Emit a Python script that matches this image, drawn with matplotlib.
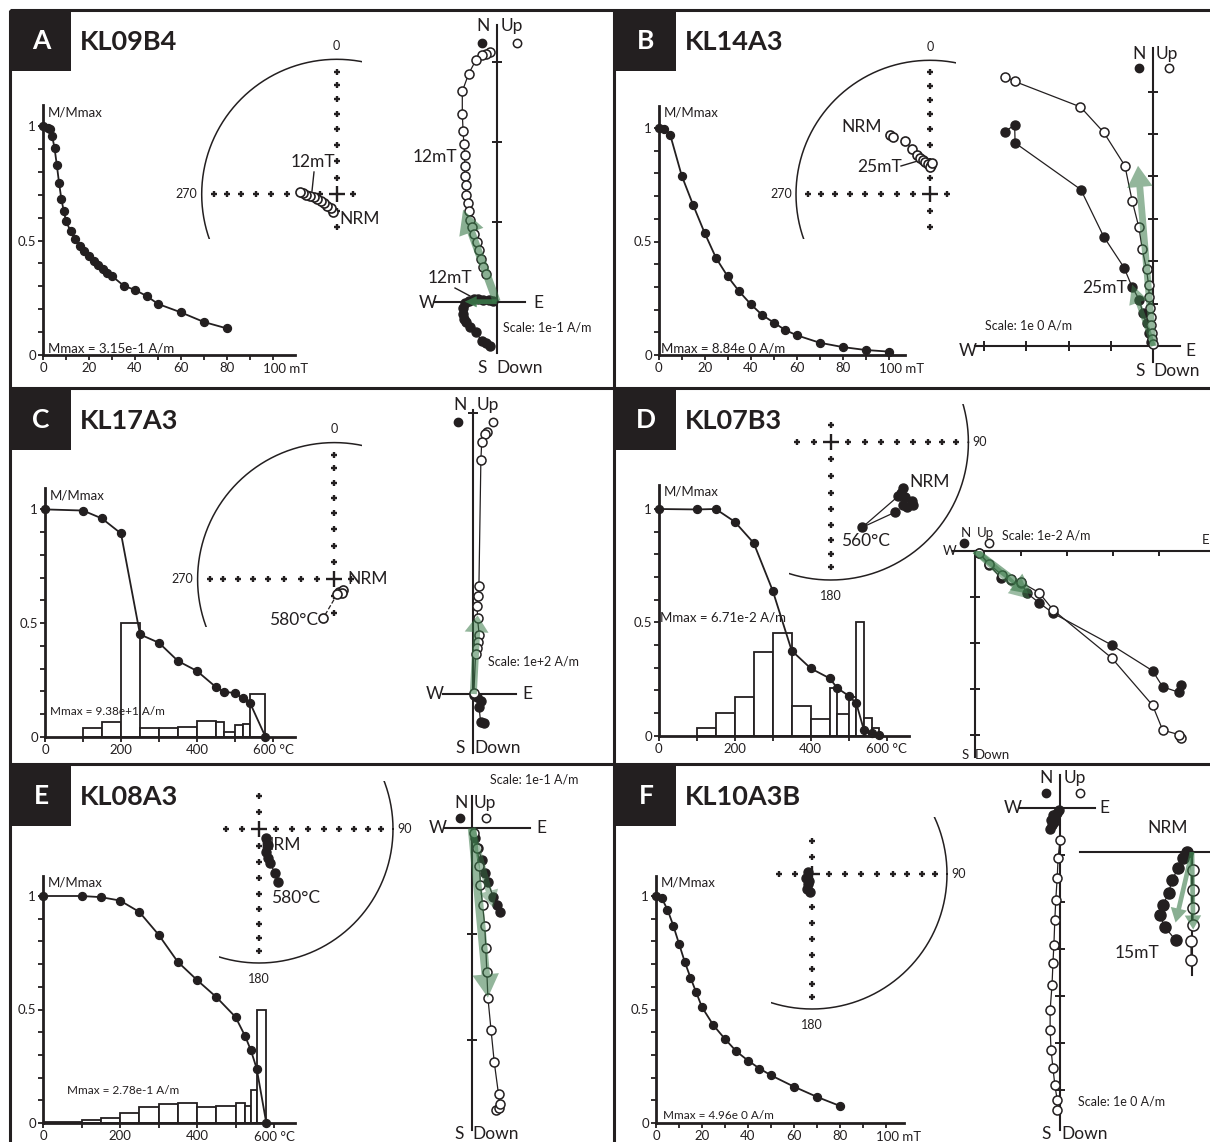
import numpy as np
import matplotlib.pyplot as plt
from matplotlib.patches import Rectangle

plt.rcParams['font.family'] = ['Lato', 'DejaVu Sans']

W, H = 1210, 1142
INK = '#231f20'
GREEN = '#3b7a4a'

# ---------------- demagnetisation curves ----------------
A_step = [0, 2, 3, 4, 5, 6, 7, 8, 9, 10, 12, 14, 16, 18, 20, 22, 24, 26, 28, 30, 35, 40, 45, 50, 60, 70, 80]
A_mag = [1.0, 0.99, 0.985, 0.955, 0.905, 0.83, 0.75, 0.68, 0.63, 0.585, 0.54, 0.505, 0.476, 0.454, 0.432,
         0.41, 0.393, 0.376, 0.36, 0.345, 0.303, 0.284, 0.258, 0.223, 0.186, 0.144, 0.116]

B_step = [0, 2.5, 5, 10, 15, 20, 25, 30, 35, 40, 45, 50, 55, 60, 70, 80, 90, 100]
B_mag = [1.0, 0.995, 0.97, 0.79, 0.66, 0.537, 0.426, 0.346, 0.28, 0.224, 0.176, 0.143, 0.11, 0.087,
         0.054, 0.035, 0.022, 0.015]

C_step = [0, 100, 150, 200, 250, 300, 350, 400, 450, 470, 500, 520, 540, 580]
C_mag = [1.0, 0.995, 0.96, 0.894, 0.45, 0.413, 0.333, 0.289, 0.218, 0.198, 0.192, 0.169, 0.147, 0.0]
C_bin_lo = [100, 150, 200, 250, 300, 350, 400, 450, 470, 500, 520, 540]
C_bin_hi = [150, 200, 250, 300, 350, 400, 450, 470, 500, 520, 540, 580]
C_bin_h = [0.037, 0.063, 0.5, 0.037, 0.037, 0.044, 0.069, 0.063, 0.02, 0.051, 0.054, 0.19]

D_step = [0, 100, 150, 200, 250, 300, 350, 400, 450, 470, 500, 520, 540, 560, 580]
D_mag = [1.0, 0.998, 1.0, 0.944, 0.85, 0.64, 0.375, 0.297, 0.253, 0.21, 0.176, 0.143, 0.025, 0.01, 0.003]
D_bin_lo = [100, 150, 200, 250, 300, 350, 400, 450, 470, 500, 520, 540, 560]
D_bin_hi = [150, 200, 250, 300, 350, 400, 450, 470, 500, 520, 540, 560, 580]
D_bin_h = [0.035, 0.098, 0.172, 0.37, 0.451, 0.132, 0.072, 0.212, 0.094, 0.17, 0.5, 0.076, 0.032]

E_step = [0, 100, 150, 200, 250, 300, 350, 400, 450, 500, 525, 540, 555, 580]
E_mag = [1.0, 1.0, 0.995, 0.98, 0.93, 0.83, 0.71, 0.63, 0.555, 0.467, 0.383, 0.32, 0.24, 0.0]
E_bin_lo = [0, 100, 150, 200, 250, 300, 350, 400, 450, 500, 525, 540, 555]
E_bin_hi = [100, 150, 200, 250, 300, 350, 400, 450, 500, 525, 540, 555, 580]
E_bin_h = [0.005, 0.012, 0.02, 0.045, 0.07, 0.085, 0.09, 0.07, 0.075, 0.09, 0.075, 0.145, 0.5]

F_step = [0, 2.5, 5, 7.5, 10, 12.5, 15, 17.5, 20, 25, 30, 35, 40, 45, 50, 60, 70, 80]
F_mag = [1.0, 0.99, 0.94, 0.87, 0.79, 0.71, 0.64, 0.575, 0.51, 0.43, 0.37, 0.315, 0.275, 0.24, 0.21,
         0.16, 0.115, 0.075]

# ---------------- stereonet directions ----------------
A_dec = [191, 203, 219, 234, 248, 256, 262, 266, 269, 272, 274]
A_inc = [-79.4, -80.8, -81.2, -80.7, -79.5, -78.1, -76.2, -73.9, -71.5, -69.5, -67.7]
B_dec = [326, 327, 335, 338, 341, 345, 348, 352, 356, 1, 359, 3]
B_inc = [-46, -47.8, -53.5, -59.9, -64.9, -67, -68.8, -70.2, -71.3, -72.3, -73.7, -70.9]
C_dec = [158, 140, 151, 168, 196]
C_inc = [-82, -81.7, -80.9, -81.2, -65.8]
D_dec = [122.6, 125.8, 126.5, 125.8, 127.2, 130.5, 130.8, 128.4, 159.6, 137.4]
D_inc = [37.9, 37.4, 33.3, 28.3, 25.6, 28.2, 30.9, 37.3, 34.5, 31.6]
E_dec = [142, 150.6, 163.2, 162.8, 162.1, 160, 160.3]
E_inc = [83.1, 78.9, 75.4, 71.6, 68.2, 61.4, 55.3]
F_dec = [296.6, 235.7, 202, 198.4, 186.4, 201.8]
F_inc = [87.3, 85.7, 83.5, 80.5, 79.1, 85.6]

# ---------------- orthogonal (Zijderveld) projections ----------------
A_hor_e = [-0.08, -0.13, -0.19, -0.26, -0.33, -0.38, -0.41, -0.42, -0.42, -0.40, -0.35, -0.29, -0.23, -0.17, -0.10, -0.05]
A_hor_n = [-0.55, -0.52, -0.49, -0.38, -0.31, -0.25, -0.21, -0.15, -0.08, -0.02, 0.01, 0.03, 0.03, 0.02, 0.02, 0.01]
A_ver_e = [-0.08, -0.13, -0.18, -0.26, -0.35, -0.43, -0.43, -0.42, -0.41, -0.40, -0.40, -0.40, -0.39, -0.38,
           -0.36, -0.35, -0.33, -0.31, -0.28, -0.25, -0.22, -0.20, -0.17, -0.13]
A_ver_up = [3.12, 3.10, 3.09, 3.02, 2.85, 2.63, 2.35, 2.13, 1.97, 1.83, 1.70, 1.57, 1.46, 1.33, 1.23, 1.13,
            1.02, 0.94, 0.85, 0.75, 0.65, 0.54, 0.44, 0.35]

B_hor_e = [-3.5, -3.27, -3.26, -1.71, -1.17, -0.69, -0.5, -0.33, -0.25, -0.16, -0.094, -0.047]
B_hor_n = [5.05, 5.22, 4.79, 3.69, 2.58, 1.85, 1.39, 1.09, 0.79, 0.54, 0.3, 0.1]
B_ver_e = [-3.49, -3.27, -1.72, -1.17, -0.67, -0.5, -0.34, -0.26, -0.16, -0.11, -0.094, -0.079, -0.063,
           -0.047, -0.039, -0.024, -0.016]
B_ver_up = [6.35, 6.24, 5.64, 5.04, 4.25, 3.43, 2.8, 2.28, 1.81, 1.43, 1.15, 0.906, 0.693, 0.496, 0.315,
            0.157, 0.047]

C_hor_e = [0.038, 0.026, 0.020, 0.026, 0.012, 0.002]
C_hor_n = [-0.104, -0.098, -0.045, -0.025, -0.012, -0.002]
C_ver_e = [0.047, 0.043, 0.030, 0.027, 0.020, 0.018, 0.014, 0.015, 0.021, 0.018, 0.012, 0.008, 0.002]
C_ver_up = [0.932, 0.927, 0.897, 0.834, 0.384, 0.350, 0.313, 0.269, 0.210, 0.186, 0.162, 0.141, 0.002]

D_hor_e = [4.48, 4.44, 4.08, 3.86, 2.97, 1.70, 1.39, 1.14, 0.99, 0.78, 0.56, 0.30, 0.09]
D_hor_n = [-2.93, -3.08, -2.96, -2.61, -2.05, -1.36, -1.13, -0.93, -0.70, -0.63, -0.59, -0.30, -0.04]
D_ver_e = [4.48, 4.44, 4.08, 3.86, 2.97, 1.70, 1.39, 0.99, 0.78, 0.58, 0.30, 0.09]
D_ver_up = [-4.08, -4.00, -3.90, -3.36, -2.33, -1.29, -0.91, -0.68, -0.62, -0.53, -0.28, -0.06]

E_hor_e = [0.26, 0.24, 0.20, 0.15, 0.12, 0.09, 0.06, 0.03]
E_hor_n = [-0.79, -0.73, -0.65, -0.51, -0.42, -0.30, -0.19, -0.09]
E_ver_e = [0.23, 0.25, 0.26, 0.25, 0.21, 0.18, 0.15, 0.14, 0.13, 0.12, 0.10, 0.08, 0.07, 0.05, 0.02]
E_ver_up = [-2.66, -2.64, -2.60, -2.51, -2.21, -1.91, -1.60, -1.36, -1.13, -0.92, -0.73, -0.54, -0.36, -0.19, -0.05]

F_hor_e = [-0.21, -0.17, -0.19, -0.13, -0.15, -0.10, -0.06, -0.02]
F_hor_n = [-0.45, -0.36, -0.25, -0.30, -0.15, -0.20, -0.10, -0.04]
F_ver_e = [-0.06, -0.06, -0.11, -0.15, -0.19, -0.21, -0.21, -0.17, -0.15, -0.13, -0.11, -0.09, -0.06, -0.04, 0.0]
F_ver_up = [-6.43, -6.21, -5.89, -5.53, -5.15, -4.72, -4.30, -3.77, -3.30, -2.91, -2.38, -1.96, -1.49, -1.06, -0.68]
F_zoom_hor_e = [-0.02, -0.04, -0.06, -0.085, -0.10, -0.123, -0.136, -0.115, -0.07]
F_zoom_hor_n = [0.0, -0.026, -0.07, -0.12, -0.175, -0.225, -0.27, -0.32, -0.375]
F_zoom_ver_e = [0.004, 0.004, 0.004, 0.004, -0.004, -0.004]
F_zoom_ver_up = [-0.077, -0.16, -0.24, -0.31, -0.38, -0.46]

samples = ['KL09B4', 'KL14A3', 'KL17A3', 'KL07B3', 'KL08A3', 'KL10A3B']
letters = ['A', 'B', 'C', 'D', 'E', 'F']

fig = plt.figure(figsize=(W / 100, H / 100), dpi=100)

bg = fig.add_axes([0, 0, 1, 1])
bg.set_xlim(0, W)
bg.set_ylim(H, 0)
bg.axis('off')


def box(x0, y0, x1, y1):
    ax = fig.add_axes([x0 / W, 1 - y1 / H, (x1 - x0) / W, (y1 - y0) / H])
    ax.patch.set_visible(False)
    return ax


def lab(x, y, s, size=12.5, ha='center'):
    bg.text(x, y, s, fontsize=size, ha=ha, va='center', color=INK)


def decay(ox, oy, sx, sy, xmax, ymax, step, mag, unit, mmax, mxy, mfs, bins=None):
    ax = box(ox, oy - ymax * sy, ox + xmax * sx, oy)
    ax.set_xlim(0, xmax)
    ax.set_ylim(0, ymax)
    for s in ('top', 'right'):
        ax.spines[s].set_visible(False)
    for s in ('left', 'bottom'):
        ax.spines[s].set_linewidth(2.0)
        ax.spines[s].set_color(INK)
    if bins is not None:
        lo, hi, h = bins
        ax.bar(lo, h, width=np.subtract(hi, lo), align='edge', color='white',
               edgecolor=INK, lw=1.3, zorder=2)
    ax.plot(step, mag, '-o', color=INK, lw=1.3, ms=5.7, zorder=3, clip_on=False)
    big, small, last = (20, 10, 100) if unit == 'mT' else (200, 100, 600)
    major = np.arange(0, last + 1, big)
    ax.set_xticks(major)
    ax.set_xticklabels([str(v) for v in major[:-1]] + [''])
    ax.set_xticks(np.arange(small, last, big), minor=True)
    ax.set_yticks([0, 0.5, 1])
    ax.set_yticklabels(['0', '0.5', '1'])
    ax.set_yticks(np.arange(0.1, 1.0, 0.1), minor=True)
    ax.tick_params(which='both', direction='out', length=3.5, width=1.3, color=INK,
                   labelsize=9.5, pad=1.5, labelcolor=INK)
    if unit == 'mT':
        ax.annotate(f'{last} {unit}', xy=(last, 0), xytext=(-7, -5.5), textcoords='offset points',
                    ha='left', va='top', fontsize=9.5, color=INK, annotation_clip=False)
    else:
        ax.annotate(f'{last} {unit}', xy=(last, 0), xytext=(0, -5.5), textcoords='offset points',
                    ha='center', va='top', fontsize=9.5, color=INK, annotation_clip=False)
    ax.annotate('M/Mmax', xy=(0, ymax), xytext=(3.5, -5), textcoords='offset points',
                ha='left', va='center', fontsize=9.5, color=INK)
    ax.text(mxy[0], mxy[1], mmax, fontsize=mfs, ha='left', va='center', color=INK, zorder=4)
    return ax


def eqarea(dec, inc):
    d = np.radians(dec)
    r = np.sqrt(2) * np.sin(np.radians(90 - np.abs(inc)) / 2)
    return r * np.sin(d), r * np.cos(d)


def stereo(cx, cy, R, xlim, ylim, dec, inc, marks, joined=False, dashed_last=False, cross_top=None):
    ax = box(cx + xlim[0] * R, cy - ylim[1] * R, cx + xlim[1] * R, cy - ylim[0] * R)
    ax.set_xlim(xlim)
    ax.set_ylim(ylim)
    ax.axis('off')
    t = np.linspace(0, 2 * np.pi, 721)
    ax.plot(np.cos(t), np.sin(t), color=INK, lw=1.1)
    r = np.sqrt(2) * np.sin(np.radians(90 - np.arange(80, 0, -10)) / 2)
    z = np.zeros_like(r)
    gx = np.concatenate([r, -r, z, z])
    gy = np.concatenate([z, z, r, -r])
    top = ylim[1] if cross_top is None else cross_top
    keep = (gx > xlim[0] + 0.04) & (gx < xlim[1] - 0.04) & (gy > ylim[0] + 0.04) & (gy < top - 0.04)
    ax.plot(gx[keep], gy[keep], '+', color=INK, ms=5, mew=1.7)
    ax.plot([0], [0], '+', color=INK, ms=12, mew=1.7)
    x, y = eqarea(np.array(dec), np.array(inc))
    inc = np.array(inc)
    if joined:
        ax.plot(x, y, '-', color=INK, lw=0.9, clip_on=False)
    if dashed_last:
        ax.plot(x[-2:], y[-2:], '--', color=INK, lw=0.9, clip_on=False)
    down = inc > 0
    ax.plot(x[down], y[down], 'o', color=INK, ms=6.5, clip_on=False)
    ax.plot(x[~down], y[~down], 'o', mfc='white', mec=INK, mew=1.2, ms=6.5, clip_on=False)
    spots = {'0': ((0, 1), (0, 9.5), 'center'), '270': ((-1, 0), (-3, 0), 'right'),
             '90': ((1, 0), (3, 0), 'left'), '180': ((0, -1), (0, -11.5), 'center')}
    for m in marks:
        xy, off, ha = spots[m]
        ax.annotate(m, xy=xy, xytext=off, textcoords='offset points', ha=ha, va='center',
                    fontsize=9, color=INK, annotation_clip=False)
    return ax


def zijder(ox, oy, u, xlim, ylim, he, hn, ve, vu, tx=(), ty=(), arrows=(), ms=6.5):
    ax = box(ox + xlim[0] * u, oy - ylim[1] * u, ox + xlim[1] * u, oy - ylim[0] * u)
    ax.set_xlim(xlim)
    ax.set_ylim(ylim)
    ax.axis('off')
    ax.plot(xlim, [0, 0], color=INK, lw=1.5, clip_on=False)
    ax.plot([0, 0], ylim, color=INK, lw=1.5, clip_on=False)
    if len(tx):
        ax.plot(tx, np.zeros(len(tx)), '|', color=INK, ms=7, mew=1.4)
    if len(ty):
        ax.plot(np.zeros(len(ty)), ty, '_', color=INK, ms=7, mew=1.4)
    ax.plot(he, hn, '-o', color=INK, lw=0.9, ms=ms, clip_on=False)
    ax.plot(ve, vu, '-o', color=INK, mfc='white', mew=1.1, lw=0.9, ms=ms, clip_on=False)
    for (dx, dy), w, hw, hl, a in arrows:
        ax.arrow(0, 0, dx, dy, width=w, head_width=hw, head_length=hl, length_includes_head=True,
                 fc=GREEN, ec='none', alpha=a, zorder=5)
    return ax


def axis_words(n, up, s, down, w, e, dot_f, dot_o, size=12.5, e_ha='center'):
    lab(*n, 'N', size)
    lab(*up, 'Up', size)
    lab(*s, 'S', size)
    lab(*down, 'Down', size)
    lab(*w, 'W', size)
    lab(*e, 'E', size, e_ha)
    bg.plot(*dot_f, 'o', color=INK, ms=6)
    bg.plot(*dot_o, 'o', mfc='white', mec=INK, mew=1.1, ms=6)


# ---------------- frames, letters, titles ----------------
for xs, ys in [((10, W + 5), (10, 10)), ((10, 10), (10, H + 5)), ((613.5, 613.5), (10, H + 5)),
               ((10, W + 5), (388, 388)), ((10, W + 5), (764, 764))]:
    bg.plot(xs, ys, color=INK, lw=2.2, solid_capstyle='butt')

corners = [(10, 10), (615, 10), (10, 389), (615, 389), (10, 765), (615, 765)]
for (x0, y0), letter, name in zip(corners, letters, samples):
    bg.add_patch(Rectangle((x0, y0), 61, 61, color=INK, lw=0))
    bg.text(x0 + 31, y0 + 31, letter, color='white', fontsize=19, weight='bold', ha='center', va='center')
    bg.text(x0 + 70, y0 + 32, name, color=INK, fontsize=19.5, weight='bold', ha='left', va='center')

# ---------------- panel A ----------------
decay(43, 355, 2.3, 229, 109.5, 1.09, A_step, A_mag, 'mT', 'Mmax = 3.15e-1 A/m', (2, 0.03), 9.5)
stereo(336.7, 194.3, 135, (-1.06, 0.185), (-0.33, 1.08), A_dec, A_inc, ['0', '270'])
zijder(496.7, 301.7, 80, (-0.79, 0.35), (-0.64, 3.46), A_hor_e, A_hor_n, A_ver_e, A_ver_up,
       ty=[1, 2, 3],
       arrows=[((-0.42, 1.15), 0.1, 0.32, 0.3, 0.6), ((-0.4, 0.0), 0.06, 0.14, 0.15, 0.85)])
axis_words((483, 26), (512, 26), (482, 368), (520, 368), (428, 303), (538, 303), (482, 43), (517, 43))
lab(313, 162, '12mT')
bg.plot([314, 312], [172, 191], color=INK, lw=1)
lab(360, 219, 'NRM')
lab(435, 157, '12mT')
lab(450, 278, '12mT')
bg.plot([455, 470], [288, 296], color=INK, lw=1)
lab(503, 327, 'Scale: 1e-1 A/m', 9, 'left')

# ---------------- panel B ----------------
decay(658.7, 355, 2.3, 227, 107, 1.097, B_step, B_mag, 'mT', 'Mmax = 8.84e 0 A/m', (1, 0.03), 9.5)
stereo(930, 194.3, 134, (-1.06, 0.195), (-0.33, 1.08), B_dec, B_inc, ['0', '270'])
zijder(1153.3, 346, 42.4, (-4.2, 0.63), (-0.37, 7.02), B_hor_e, B_hor_n, B_ver_e, B_ver_up,
       tx=[-1, -2, -3, -4], ty=[1, 2, 3, 4, 5, 6],
       arrows=[((-0.36, 4.25), 0.16, 0.6, 0.5, 0.55), ((-0.5, 1.45), 0.12, 0.45, 0.45, 0.55)])
axis_words((1139, 54), (1167, 54), (1140, 371), (1177, 371), (968, 351), (1190, 351),
           (1139, 68), (1169, 68))
lab(862, 127, 'NRM')
lab(880, 167, '25mT')
bg.plot([901, 921], [166, 160], color=INK, lw=1)
lab(1105, 288, '25mT')
lab(985, 325, 'Scale: 1e 0 A/m', 9, 'left')

# ---------------- panel C ----------------
decay(45, 736.7, 0.38, 227.3, 658, 1.093, C_step, C_mag, '°C', 'Mmax = 9.38e+1 A/m', (13, 0.11), 8.5,
      bins=(C_bin_lo, C_bin_hi, C_bin_h))
stereo(334.3, 579.3, 136.7, (-1.06, 0.2), (-0.35, 1.08), C_dec, C_inc, ['0', '270'], dashed_last=True)
zijder(473.3, 694, 281, (-0.107, 0.152), (-0.21, 1.01), C_hor_e, C_hor_n, C_ver_e, C_ver_up,
       ty=[1.0], arrows=[((0.015, 0.28), 0.025, 0.085, 0.06, 0.55)])
axis_words((460, 405), (488, 405), (460, 748), (498, 748), (435, 694), (527, 694), (458, 422), (493, 422))
lab(368, 579, 'NRM')
lab(294, 620, '580°C')
lab(488, 662, 'Scale: 1e+2 A/m', 9, 'left')

# ---------------- panel D ----------------
decay(658.7, 735.7, 0.38, 226.7, 658, 1.106, D_step, D_mag, '°C', 'Mmax = 6.71e-2 A/m', (3, 0.52), 9.5,
      bins=(D_bin_lo, D_bin_hi, D_bin_h))
stereo(830.7, 442.3, 137.7, (-0.3, 1.06), (-1.06, 0.28), D_dec, D_inc, ['90', '180'], joined=True)
zijder(975, 550.7, 46, (-0.47, 5.3), (-4.48, 0.0), D_hor_e, D_hor_n, D_ver_e, D_ver_up,
       tx=[1, 2, 3, 4], ty=[-1, -2, -3, -4],
       arrows=[((1.25, -0.95), 0.15, 0.45, 0.45, 0.6), ((1.2, -1.05), 0.15, 0.45, 0.45, 0.5)])
axis_words((966, 533), (985, 533), (965, 755), (992, 755), (950, 551), (1209, 540),
           (964, 543), (989, 543), size=9.5, e_ha='right')
lab(930, 482, 'NRM')
lab(866, 541, '560°C')
lab(1002, 536, 'Scale: 1e-2 A/m', 9, 'left')

# ---------------- panel E ----------------
decay(43, 1123, 0.385, 227, 655, 1.09, E_step, E_mag, '°C', 'Mmax = 2.78e-1 A/m', (62, 0.145), 8.5,
      bins=(E_bin_lo, E_bin_hi, E_bin_h))
stereo(259, 829, 134, (-0.3, 1.06), (-1.06, 0.36), E_dec, E_inc, ['90', '180'], joined=True,
       cross_top=0.3)
zijder(472, 828, 106, (-0.255, 0.547), (-2.85, 0.3), E_hor_e, E_hor_n, E_ver_e, E_ver_up,
       ty=[-1, -2],
       arrows=[((0.15, -1.6), 0.08, 0.25, 0.22, 0.55), ((0.2, -0.75), 0.06, 0.18, 0.16, 0.45)])
axis_words((461, 803), (485, 803), (459, 1134), (496, 1134), (438, 828), (541, 828), (460, 818), (486, 818))
lab(281, 845, 'NRM')
lab(296, 898, '580°C')
lab(490, 779, 'Scale: 1e-1 A/m', 9, 'left')

# ---------------- panel F ----------------
decay(656, 1123, 2.3, 227, 108, 1.09, F_step, F_mag, 'mT', 'Mmax = 4.96e 0 A/m', (3, 0.035), 8.5)
stereo(812, 874, 135, (-0.3, 1.06), (-1.06, 0.42), F_dec, F_inc, ['90', '180'], cross_top=0.3)
zijder(1060, 808, 47, (-0.85, 0.74), (-6.85, 0.7), F_hor_e, F_hor_n, F_ver_e, F_ver_up,
       ty=[-1, -2, -3, -4, -5, -6])
zijder(1192, 852, 235, (-0.477, 0.1), (-0.523, 0.0), F_zoom_hor_e, F_zoom_hor_n, F_zoom_ver_e, F_zoom_ver_up,
       arrows=[((0.005, -0.33), 0.02, 0.07, 0.06, 0.6), ((-0.07, -0.3), 0.02, 0.07, 0.06, 0.6)], ms=8)
axis_words((1046, 778), (1075, 778), (1046, 1134), (1085, 1134), (1013, 808), (1104, 808),
           (1046, 793), (1080, 793))
lab(1168, 828, 'NRM')
lab(1137, 953, '15mT')
lab(1078, 1102, 'Scale: 1e 0 A/m', 9, 'left')

fig.savefig('out.png', dpi=100)
